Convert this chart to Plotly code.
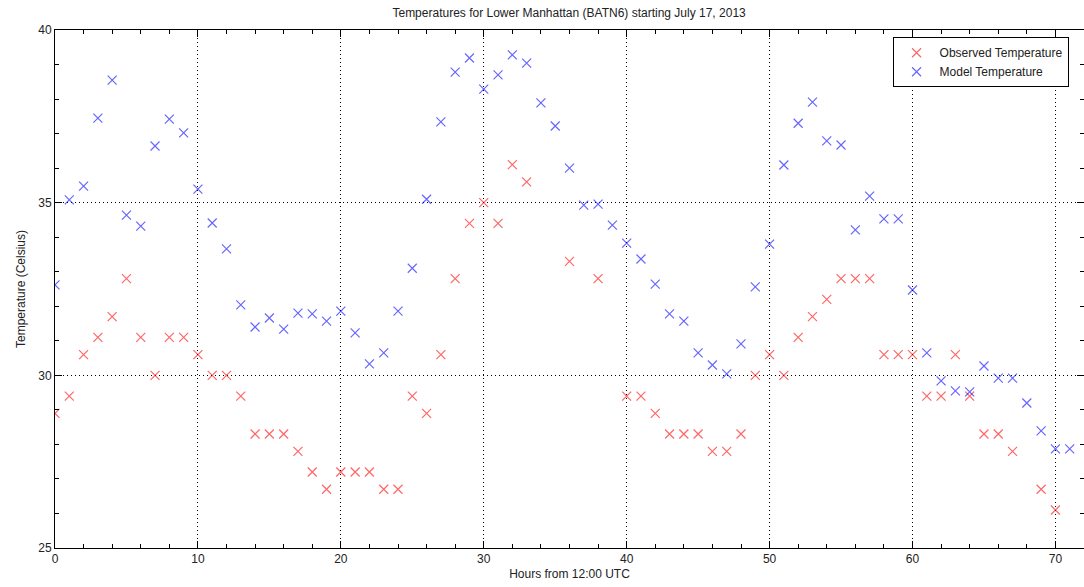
import plotly.graph_objects as go

hours = list(range(72))

observed = [28.9, 29.4, 30.6, 31.1, 31.7, 32.8, 31.1, 30.0, 31.1, 31.1,
            30.6, 30.0, 30.0, 29.4, 28.3, 28.3, 28.3, 27.8, 27.2, 26.7,
            27.2, 27.2, 27.2, 26.7, 26.7, 29.4, 28.9, 30.6, 32.8, 34.4,
            35.0, 34.4, 36.1, 35.6, None, None, 33.3, None, 32.8, None,
            29.4, 29.4, 28.9, 28.3, 28.3, 28.3, 27.8, 27.8, 28.3, 30.0,
            30.6, 30.0, 31.1, 31.7, 32.2, 32.8, 32.8, 32.8, 30.6, 30.6,
            30.6, 29.4, 29.4, 30.6, 29.4, 28.3, 28.3, 27.8, None, 26.7,
            26.1, None]

model = [32.62, 35.08, 35.48, 37.45, 38.55, 34.64, 34.32, 36.64, 37.42, 37.02,
         35.39, 34.41, 33.66, 32.04, 31.40, 31.66, 31.34, 31.80, 31.78, 31.57,
         31.86, 31.23, 30.33, 30.65, 31.86, 33.10, 35.10, 37.34, 38.78, 39.19,
         38.29, 38.70, 39.28, 39.04, 37.89, 37.22, 36.00, 34.93, 34.96, 34.35,
         33.83, 33.37, 32.64, 31.78, 31.57, 30.65, 30.30, 30.04, 30.91, 32.56,
         33.80, 36.09, 37.30, 37.91, 36.79, 36.67, 34.21, 35.19, 34.53, 34.53,
         32.47, 30.65, 29.84, 29.55, 29.52, 30.27, 29.92, 29.92, 29.20, 28.39,
         27.87, 27.87]

title_text = "Temperatures for Lower Manhattan (BATN6) starting July 17, 2013"
x_label = "Hours from 12:00 UTC"
y_label = "Temperature (Celsius)"

font_family = "Liberation Sans, Arial, sans-serif"

fig = go.Figure()
fig.add_trace(go.Scatter(
    x=hours, y=observed, mode="markers", name="Observed Temperature",
    marker=dict(symbol="x-thin", size=9, line=dict(width=1.2, color="rgba(255,0,0,0.6)"),
                color="rgba(255,0,0,0.6)"),
))
fig.add_trace(go.Scatter(
    x=hours, y=model, mode="markers", name="Model Temperature",
    marker=dict(symbol="x-thin", size=9, line=dict(width=1.2, color="rgba(0,0,255,0.6)"),
                color="rgba(0,0,255,0.6)"),
))

axis_common = dict(
    showline=True, linecolor="black", linewidth=1, mirror="ticks",
    ticks="inside", ticklen=7, tickcolor="black",
    showgrid=True, gridcolor="black", griddash="1px,3px", gridwidth=1,
    zeroline=False,
    tickfont=dict(family=font_family, size=12, color="#222"),
)

fig.update_xaxes(
    range=[0, 72], tick0=0, dtick=10,
    minor=dict(ticks="inside", ticklen=4, dtick=2, tickcolor="black", showgrid=False),
    title=dict(text=x_label, font=dict(family=font_family, size=12, color="#222"), standoff=4),
    **axis_common,
)
fig.update_yaxes(
    range=[25, 40], tick0=25, dtick=5,
    minor=dict(ticks="inside", ticklen=4, dtick=1, tickcolor="black", showgrid=False),
    title=dict(text=y_label, font=dict(family=font_family, size=12, color="#222"), standoff=10),
    **axis_common,
)

fig.update_layout(
    width=1084, height=587,
    margin=dict(l=55, r=0, t=30, b=39),
    paper_bgcolor="white", plot_bgcolor="white",
    title=dict(text=title_text, x=0.525, xanchor="center", y=0.978, yanchor="middle",
               font=dict(family=font_family, size=12, color="#222")),
    legend=dict(x=0.985, y=0.986, xanchor="right", yanchor="top",
                bgcolor="white", bordercolor="black", borderwidth=1,
                font=dict(family=font_family, size=12, color="#222"),
                itemwidth=36, tracegroupgap=0),
    showlegend=True,
)

fig.write_html("out.html")
